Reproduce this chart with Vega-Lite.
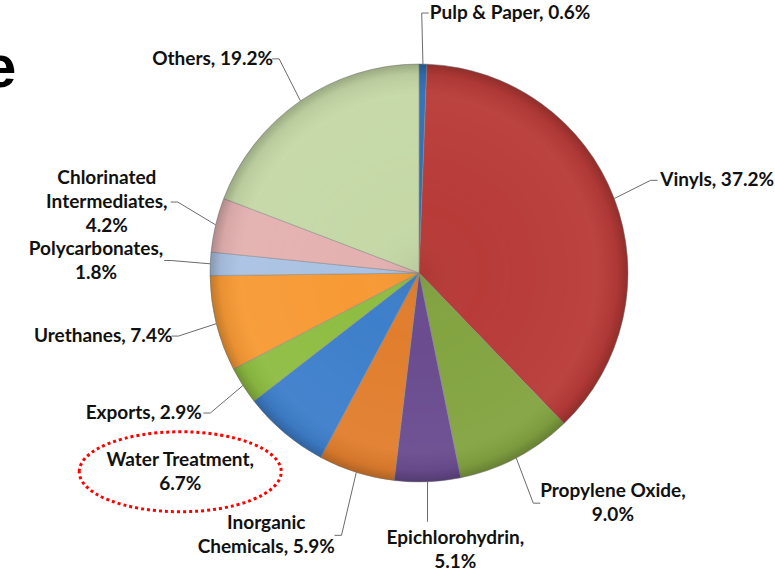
{
  "$schema": "https://vega.github.io/schema/vega-lite/v6.json",
  "width": 710,
  "height": 546,
  "autosize": {"type": "none"},
  "padding": {"left": 64, "top": 0, "right": 1, "bottom": 26},
  "background": "#ffffff",
  "config": {"view": {"stroke": null}},
  "title": {
    "text": "e",
    "anchor": "start",
    "frame": "group",
    "font": "Liberation Sans",
    "fontSize": 60,
    "fontWeight": "bold",
    "color": "#000000",
    "baseline": "alphabetic",
    "offset": 0,
    "dx": -81,
    "dy": 147
  },
  "data": {
    "values": [
      {"category": "Pulp & Paper", "label": "Pulp & Paper, 0.6%", "value": 0.6, "order": 1},
      {"category": "Vinyls", "label": "Vinyls, 37.2%", "value": 37.2, "order": 2},
      {"category": "Propylene Oxide", "label": "Propylene Oxide,\n9.0%", "value": 9.0, "order": 3},
      {"category": "Epichlorohydrin", "label": "Epichlorohydrin,\n5.1%", "value": 5.1, "order": 4},
      {"category": "Inorganic Chemicals", "label": "Inorganic\nChemicals, 5.9%", "value": 5.9, "order": 5},
      {"category": "Water Treatment", "label": "Water Treatment,\n6.7%", "value": 6.7, "order": 6},
      {"category": "Exports", "label": "Exports, 2.9%", "value": 2.9, "order": 7},
      {"category": "Urethanes", "label": "Urethanes, 7.4%", "value": 7.4, "order": 8},
      {"category": "Polycarbonates", "label": "Polycarbonates,\n1.8%", "value": 1.8, "order": 9},
      {"category": "Chlorinated Intermediates", "label": "Chlorinated\nIntermediates,\n4.2%", "value": 4.2, "order": 10},
      {"category": "Others", "label": "Others, 19.2%", "value": 19.2, "order": 11}
    ]
  },
  "transform": [
    {"window": [{"op": "sum", "field": "value", "as": "cum"}], "sort": [{"field": "order"}], "frame": [null, 0]},
    {"joinaggregate": [{"op": "sum", "field": "value", "as": "total"}]},
    {"calculate": "2 * PI * (datum.cum - datum.value / 2) / datum.total", "as": "mid"},
    {"calculate": "sin(datum.mid)", "as": "s"},
    {"calculate": "cos(datum.mid)", "as": "c"},
    {"calculate": "split(datum.label, '\\n')", "as": "parts"},
    {"calculate": "datum.parts.length", "as": "n"},
    {"calculate": "max(length(datum.parts[0]), datum.parts.length > 1 ? length(datum.parts[1]) : 0, datum.parts.length > 2 ? length(datum.parts[2]) : 0)", "as": "L"},
    {"calculate": "datum.L * 4.35", "as": "hw"},
    {"calculate": "(abs(datum.s) < 0.25 && datum.c < 0) ? 0 : (datum.s >= 0 ? 1 : -1)", "as": "side"},
    {"calculate": "(datum.c < 0 && abs(datum.s) < 0.4) ? 275 : 260", "as": "R"},
    {"calculate": "datum.s * (datum.R - 10) + datum.side * 8", "as": "near"},
    {"calculate": "datum.side == 0 ? datum.c * 265 - 12 * (datum.n - 1) : datum.c * datum.R + (datum.n - 1) * 24 * max(datum.c, 0)", "as": "ly"},
    {"calculate": "datum.ly + (datum.n - 1) * 12", "as": "ty"},
    {"calculate": "datum.side == 0 ? datum.s * 209 + datum.hw * 0.4 : datum.near + datum.side * datum.hw", "as": "lx"},
    {"calculate": "datum.s * 209", "as": "ax"},
    {"calculate": "datum.c * 209", "as": "ay"},
    {"calculate": "datum.side == 0 ? datum.ax : datum.near - datum.side * 10", "as": "bx"},
    {"calculate": "datum.side == 0 ? datum.ly + datum.n * 12 + 4 : datum.ly", "as": "by"},
    {"calculate": "datum.side == 0 ? datum.bx : datum.near - datum.side * 3", "as": "cx"},
    {"calculate": "datum.by", "as": "cy"}
  ],
  "layer": [
    {
      "mark": {"type": "arc", "radius": 209, "stroke": "#8a8a8a", "strokeWidth": 1, "strokeOpacity": 0.55},
      "encoding": {
        "theta": {"field": "value", "type": "quantitative", "stack": true},
        "order": {"field": "order", "type": "quantitative"},
        "color": {
          "field": "category",
          "type": "nominal",
          "legend": null,
          "scale": {
            "domain": ["Pulp & Paper", "Vinyls", "Propylene Oxide", "Epichlorohydrin", "Inorganic Chemicals", "Water Treatment", "Exports", "Urethanes", "Polycarbonates", "Chlorinated Intermediates", "Others"],
            "range": ["#2F6EB5", "#B83B38", "#83A441", "#6A4C8F", "#E17E2E", "#3E7FCB", "#8EBD42", "#F79A35", "#AAC2E3", "#E3B1B0", "#C5D8A6"]
          }
        }
      }
    },
    {
      "mark": {
        "type": "arc",
        "radius": 209,
        "fill": {
          "gradient": "radial",
          "x1": 0.5, "y1": 0.5, "r1": 0,
          "x2": 0.5, "y2": 0.5, "r2": 0.5,
          "stops": [
            {"offset": 0, "color": "rgba(0,0,0,0.06)"},
            {"offset": 0.3, "color": "rgba(255,255,255,0)"},
            {"offset": 0.85, "color": "rgba(255,255,255,0.04)"},
            {"offset": 0.95, "color": "rgba(0,0,0,0.06)"},
            {"offset": 1, "color": "rgba(0,0,0,0.22)"}
          ]
        }
      },
      "encoding": {
        "theta": {"aggregate": "sum", "field": "value", "type": "quantitative"}
      }
    },
    {
      "transform": [{"filter": "datum.category != 'Water Treatment'"}],
      "mark": {"type": "rule", "color": "#6b6b6b", "strokeWidth": 1},
      "encoding": {
        "x": {"field": "ax", "type": "quantitative", "scale": {"domain": [-355, 355], "nice": false, "zero": false}, "axis": null},
        "y": {"field": "ay", "type": "quantitative", "scale": {"domain": [-273, 273], "nice": false, "zero": false}, "axis": null},
        "x2": {"field": "bx"},
        "y2": {"field": "by"}
      }
    },
    {
      "transform": [{"filter": "datum.category != 'Water Treatment' && datum.side != 0"}],
      "mark": {"type": "rule", "color": "#6b6b6b", "strokeWidth": 1},
      "encoding": {
        "x": {"field": "bx", "type": "quantitative", "scale": {"domain": [-355, 355], "nice": false, "zero": false}, "axis": null},
        "y": {"field": "by", "type": "quantitative", "scale": {"domain": [-273, 273], "nice": false, "zero": false}, "axis": null},
        "x2": {"field": "cx"},
        "y2": {"field": "cy"}
      }
    },
    {
      "mark": {"type": "text", "align": "center", "baseline": "middle", "lineBreak": "\n", "lineHeight": 24, "font": "Lato", "fontSize": 19, "fontWeight": "bold", "color": "#111111"},
      "encoding": {
        "x": {"field": "lx", "type": "quantitative", "scale": {"domain": [-355, 355], "nice": false, "zero": false}, "axis": null},
        "y": {"field": "ty", "type": "quantitative", "scale": {"domain": [-273, 273], "nice": false, "zero": false}, "axis": null},
        "text": {"field": "label", "type": "nominal"}
      }
    },
    {
      "transform": [{"filter": "datum.category == 'Water Treatment'"}],
      "mark": {
        "type": "point",
        "shape": "M -1 0 C -1 -0.2187 -0.5523 -0.396 0 -0.396 C 0.5523 -0.396 1 -0.2187 1 0 C 1 0.2187 0.5523 0.396 0 0.396 C -0.5523 0.396 -1 0.2187 -1 0 Z",
        "size": 40804,
        "filled": false,
        "stroke": "#FF0000",
        "strokeWidth": 3,
        "strokeDash": [3, 3],
        "opacity": 1
      },
      "encoding": {
        "x": {"field": "lx", "type": "quantitative", "scale": {"domain": [-355, 355], "nice": false, "zero": false}, "axis": null},
        "y": {"field": "ly", "type": "quantitative", "scale": {"domain": [-273, 273], "nice": false, "zero": false}, "axis": null}
      }
    }
  ]
}
